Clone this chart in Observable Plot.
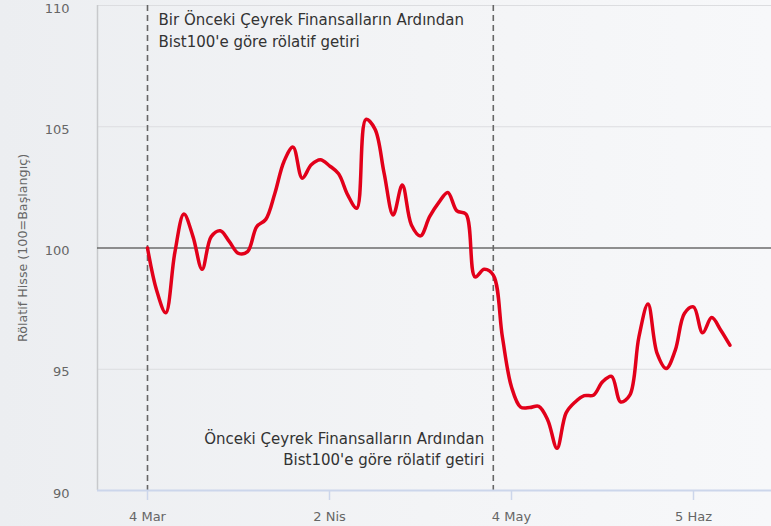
<!DOCTYPE html>
<html>
<head>
<meta charset="utf-8">
<script src="https://cdn.jsdelivr.net/npm/d3@7"></script>
<script src="https://cdn.jsdelivr.net/npm/@observablehq/plot@0.6"></script>
<style>
  html, body { margin: 0; padding: 0; }
  body {
    width: 771px; height: 526px; overflow: hidden;
    background: linear-gradient(to right, #eceef1 0%, #f3f4f6 55%, #f7f8fa 100%);
    font-family: "DejaVu Sans", sans-serif;
  }
  #chart svg { display: block; }
</style>
</head>
<body>
<div id="chart"></div>
<script>
// Relative return vs Bist100 (100 = start), one value per trading day
const values = [
  100.0, 98.26, 97.33, 99.8, 101.4, 100.47, 99.12, 100.47, 100.71, 100.26,
  99.78, 99.85, 100.88, 101.18, 102.26, 103.57, 104.16, 102.88, 103.43, 103.64,
  103.39, 103.06, 102.19, 101.64, 105.3, 104.9, 103.09, 101.36, 102.6, 100.95,
  100.5, 101.29, 101.87, 102.29, 101.53, 101.4, 98.81, 99.12, 98.88, 96.33,
  94.27, 93.44, 93.42, 93.47, 92.89, 91.74, 93.2, 93.65, 93.91, 93.93,
  94.48, 94.71, 93.65, 93.93, 96.33, 97.69, 95.65, 95.03, 95.79, 97.3,
  97.57, 96.5, 97.13, 96.61, 95.99
];
const xTickPos = [0, 20, 40, 60];
const xTickLabels = ["4 Mar", "2 Nis", "4 May", "5 Haz"];
const yTicks = [90, 95, 100, 105, 110];
const yGrid = [95, 105, 110];
const baseline = [100];
const markerPos = [0, 38];
const topNote = ["Bir Önceki Çeyrek Finansalların Ardından\nBist100'e göre rölatif getiri"];
const bottomNote = ["Önceki Çeyrek Finansalların Ardından\nBist100'e göre rölatif getiri"];
const yLabel = ["Rölatif Hisse (100=Başlangıç)"];

const step = 9.1;
const chart = Plot.plot({
  width: 771,
  height: 526,
  marginLeft: 97,
  marginRight: 0,
  marginTop: 5,
  marginBottom: 36,
  style: { background: "transparent", fontFamily: "DejaVu Sans, sans-serif" },
  x: { domain: [-50 / step, 624 / step] },
  y: { domain: [90, 110] },
  marks: [
    Plot.ruleY(yGrid, { stroke: "#dcdde0", strokeWidth: 1 }),
    Plot.ruleX([-50 / step], { stroke: "#c8c9cc", strokeWidth: 1.5 }),
    Plot.ruleY(baseline, { stroke: "#6b6b6b", strokeWidth: 1.6 }),
    Plot.ruleX(markerPos, { stroke: "#666", strokeWidth: 1.6, strokeDasharray: "6,4" }),
    Plot.ruleY([90], { stroke: "#ccd6eb", strokeWidth: 2 }),
    Plot.axisX({
      ticks: xTickPos,
      tickFormat: (d) => xTickLabels[xTickPos.indexOf(d)],
      tickSize: 10,
      tickPadding: 11,
      stroke: "#ccd6eb",
      strokeWidth: 1.5,
      fill: "#666",
      fontSize: 13,
      label: null
    }),
    Plot.axisY({
      ticks: yTicks,
      tickSize: 0,
      tickPadding: 28,
      dy: 3,
      fill: "#666",
      fontSize: 13,
      label: null
    }),
    Plot.text(yLabel, {
      frameAnchor: "left",
      textAnchor: "middle",
      rotate: -90,
      dx: -75,
      fontSize: 12.7,
      fill: "#666"
    }),
    Plot.text(topNote, {
      x: markerPos[0],
      y: 110,
      dx: 11,
      dy: 4,
      textAnchor: "start",
      lineAnchor: "top",
      lineHeight: 1.45,
      fontSize: 15,
      fill: "#333"
    }),
    Plot.text(bottomNote, {
      x: markerPos[1],
      y: 90,
      dx: -9,
      dy: -26,
      textAnchor: "end",
      lineAnchor: "bottom",
      lineHeight: 1.35,
      fontSize: 15,
      fill: "#333"
    }),
    Plot.line(values, {
      x: (d, i) => i,
      y: (d) => d,
      curve: "catmull-rom",
      stroke: "#e2001a",
      strokeWidth: 3.5,
      strokeLinejoin: "round",
      strokeLinecap: "round"
    })
  ]
});
document.getElementById("chart").appendChild(chart);
</script>
</body>
</html>
